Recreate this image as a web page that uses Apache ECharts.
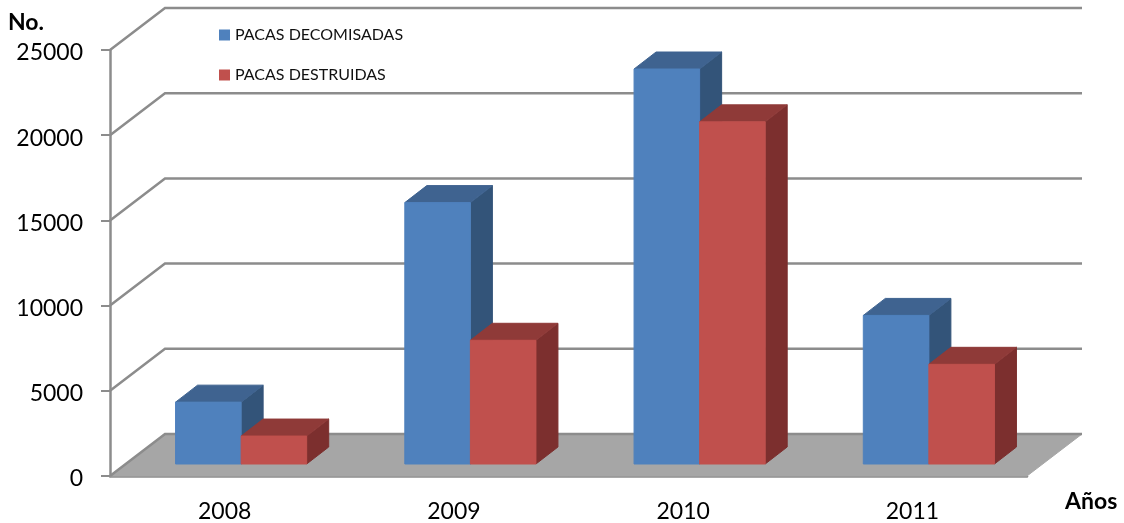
<!DOCTYPE html>
<html>
<head>
<meta charset="utf-8">
<script src="https://cdn.jsdelivr.net/npm/echarts@6/dist/echarts.min.js"></script>
<style>
    html, body { margin: 0; padding: 0; background: #fff; }
    #chart { width: 1124px; height: 523px; }
</style>
</head>
<body>
<div id="chart"></div>
<script>
    var years = ['2008', '2009', '2010', '2011'];
    var decomisadas = [3630, 15340, 23180, 8720];
    var destruidas = [1640, 7260, 20080, 5850];
    var yTicks = [0, 5000, 10000, 15000, 20000, 25000];

    var FONT = 'Lato';
    var AXIS_COLOR = '#8c8c8c';
    // depth of the fake 3d box, px
    var WALL_DX = 55, WALL_DY = -42;
    var BAR_SHIFT_X = 16.5, BAR_SHIFT_Y = -12;
    var BAR_DX = 22, BAR_DY = -17;
    var BAR_RATIO = 0.286;

    function poly(points, color, edge) {
        return {
            type: 'polygon',
            shape: { points: points },
            style: { fill: color, stroke: edge || color, lineWidth: 1 }
        };
    }

    function barRender(slot, front, top, side) {
        return function (params, api) {
            var p = api.coord([api.value(0), api.value(1)]);
            var base = api.coord([api.value(0), 0]);
            var w = api.size([1, 0])[0] * BAR_RATIO;
            var x0 = p[0] + (slot - 1) * w + BAR_SHIFT_X;
            var x1 = x0 + w;
            var yT = p[1] + BAR_SHIFT_Y;
            var yB = base[1] + BAR_SHIFT_Y;
            return {
                type: 'group',
                children: [
                    poly([[x1, yT], [x1 + BAR_DX, yT + BAR_DY], [x1 + BAR_DX, yB + BAR_DY], [x1, yB]], side),
                    poly([[x0, yT], [x0 + BAR_DX, yT + BAR_DY], [x1 + BAR_DX, yT + BAR_DY], [x1, yT]], top),
                    poly([[x0, yT], [x1, yT], [x1, yB], [x0, yB]], front)
                ]
            };
        };
    }

    // back wall gridlines + the slanted side wall lines
    function wallRender(params, api) {
        var rect = params.coordSys;
        var y = api.coord([0, api.value(0)])[1];
        var left = rect.x;
        var right = rect.x + rect.width;
        return {
            type: 'polyline',
            shape: { points: [[left, y], [left + WALL_DX, y + WALL_DY], [right + WALL_DX, y + WALL_DY]] },
            style: { fill: 'none', stroke: AXIS_COLOR, lineWidth: 2.5 }
        };
    }

    function floorRender(params, api) {
        var rect = params.coordSys;
        var y = api.coord([0, 0])[1];
        var left = rect.x;
        var right = rect.x + rect.width;
        return poly([[left, y], [left + WALL_DX, y + WALL_DY], [right + WALL_DX, y + WALL_DY], [right, y]], '#a6a6a6', '#a6a6a6');
    }

    var myChart = echarts.init(document.getElementById('chart'));
    var option = {
        animation: false,
        textStyle: { fontFamily: FONT },
        title: [
            { text: 'No.', left: 3, top: 6, textStyle: { fontFamily: FONT, fontSize: 23, fontWeight: 'bold', color: '#000' } },
            { text: 'Años', left: 1060, top: 485, textStyle: { fontFamily: FONT, fontSize: 23, fontWeight: 'bold', color: '#000' } }
        ],
        legend: {
            orient: 'vertical',
            left: 214,
            top: 22,
            itemGap: 24,
            itemWidth: 11,
            itemHeight: 11,
            icon: 'rect',
            textStyle: { fontFamily: FONT, fontSize: 16, color: '#111' },
            data: ['PACAS DECOMISADAS', 'PACAS DESTRUIDAS']
        },
        grid: { left: 110, right: 97, top: 50, bottom: 46 },
        xAxis: {
            type: 'category',
            data: years,
            axisLine: { lineStyle: { color: AXIS_COLOR, width: 2.5 } },
            axisTick: { length: 9, alignWithLabel: false, lineStyle: { color: AXIS_COLOR, width: 2 } },
            axisLabel: { fontFamily: FONT, fontSize: 23, color: '#000', margin: 24 }
        },
        yAxis: {
            type: 'value',
            min: 0,
            max: 25000,
            interval: 5000,
            splitLine: { show: false },
            axisLine: { show: true, lineStyle: { color: AXIS_COLOR, width: 2.5 } },
            axisTick: { show: true, length: 9, lineStyle: { color: AXIS_COLOR, width: 2 } },
            axisLabel: {
                fontFamily: FONT, fontSize: 23, color: '#000', margin: 27,
                verticalAlign: 'top',
                lineHeight: 6,
                formatter: function (v) { return String(v); }
            }
        },
        series: [
            {
                type: 'custom',
                silent: true,
                z: 1,
                data: [0],
                renderItem: floorRender,
                encode: { y: 0 }
            },
            {
                type: 'custom',
                silent: true,
                z: 2,
                data: yTicks,
                renderItem: wallRender,
                encode: { y: 0 }
            },
            {
                name: 'PACAS DECOMISADAS',
                type: 'custom',
                z: 3,
                itemStyle: { color: '#4f81bd' },
                data: decomisadas.map(function (v, i) { return [i, v]; }),
                encode: { x: 0, y: 1 },
                renderItem: barRender(0, '#4f81bd', '#3f6390', '#335479')
            },
            {
                name: 'PACAS DESTRUIDAS',
                type: 'custom',
                z: 4,
                itemStyle: { color: '#c0504d' },
                data: destruidas.map(function (v, i) { return [i, v]; }),
                encode: { x: 0, y: 1 },
                renderItem: barRender(1, '#c0504d', '#8f3a38', '#7c2f2e')
            }
        ]
    };
    myChart.setOption(option);
</script>
</body>
</html>
